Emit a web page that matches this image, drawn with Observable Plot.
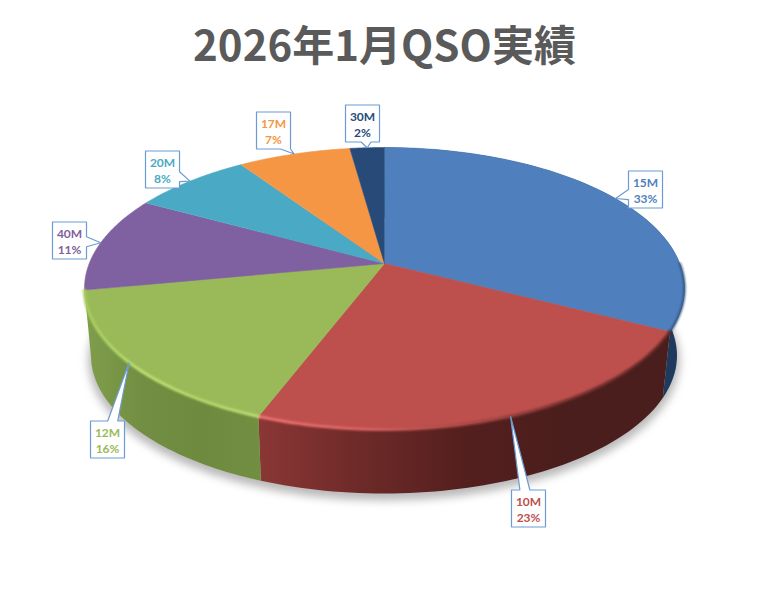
<!DOCTYPE html>
<html lang="ja">
<head>
<meta charset="utf-8">
<script src="https://cdn.jsdelivr.net/npm/d3@7"></script>
<script src="https://cdn.jsdelivr.net/npm/@observablehq/plot@0.6"></script>
<style>
  html, body { margin: 0; padding: 0; background: #fff; }
  #title {
    height: 78px; width: 769px; box-sizing: border-box; padding-top: 13px;
    text-align: center; font: 700 42px/60px "Noto Sans CJK JP", sans-serif; color: #5a5a5a;
  }
  svg { display: block; }
</style>
</head>
<body>
<div id="title">2026年1月QSO実績</div>
<div id="chart"></div>
<script>
// ---- values ----
const bands    = ["15M", "10M", "12M", "40M", "20M", "17M", "30M"];
const percents = [32.6, 23.2, 16.2, 11, 7.6, 7.2, 2.2];
const colors   = ["#4f7fbc", "#bd4f4c", "#9aba59", "#7f60a0", "#4aa9c4", "#f49644", "#274a78"];

// ---- drawing layout (page pixels) ----
const topRim = {cx: 384, cy: 288, rx: 300, ry: 141};
const botRim = {cx: 383.5, cy: 355, rx: 293, ry: 138};
const tilt = -0.177;                 // perspective shift of the pie's centre
const boxCenters = [[645, 189], [528, 508], [107, 439], [69, 240], [162, 169], [273, 130], [362, 123]];
const boxW = 34, boxH = 37, wedge = 5;

// A point on the pie (fraction of the turn, radius) through the perspective onto a rim
function project(turn, radius, rim) {
  const th = 2 * Math.PI * turn;
  const u = radius * Math.sin(th), v = -radius * Math.cos(th);
  const d = 1 + tilt * v;
  return {
    x: rim.cx + rim.rx * (u * Math.sqrt(1 - tilt * tilt) / d),
    y: rim.cy + rim.ry * ((v + tilt) / d)
  };
}
const total = d3.sum(percents);
const starts = d3.cumsum([0, ...percents]).map((c) => c / total);
const slices = bands.map((band, i) => ({band, i, a: starts[i], b: starts[i + 1]}));
const turns = (a, b) => d3.range(0, 61).map((k) => a + (b - a) * k / 60);

const faceData = slices.flatMap((s) => [
  {band: s.band, ...project(0, 0, topRim)},
  ...turns(s.a, s.b).map((t) => ({band: s.band, ...project(t, 1, topRim)}))
]);
const wallData = (s) => [
  ...turns(s.a, s.b).map((t) => project(t, 1, topRim)),
  ...turns(s.b, s.a).map((t) => project(t, 1, botRim))
];
const rimData = (s) => turns(Math.max(s.a, 0.25), s.b).map((t) => project(t, 1, topRim));
const shadowRim = {cx: botRim.cx, cy: botRim.cy + 5, rx: botRim.rx + 3, ry: botRim.ry + 2};
const shadowData = turns(0, 1).map((t) => project(t, 1, shadowRim));

// Callout outline: a box with a wedge reaching the rim at the middle of the slice
function callout(s) {
  const tip = project((s.a + s.b) / 2, 1, topRim);
  const [cx, cy] = boxCenters[s.i];
  const c = {x: cx, y: cy};
  const l = c.x - boxW / 2, r = c.x + boxW / 2, t = c.y - boxH / 2, b = c.y + boxH / 2;
  const nx = (tip.x - c.x) / (boxW / 2), ny = (tip.y - c.y) / (boxH / 2);
  const clamp = (v, lo, hi) => Math.max(lo + wedge, Math.min(hi - wedge, v));
  const alongX = clamp(c.x + (tip.x - c.x) / Math.abs(ny), l, r);
  const alongY = clamp(c.y + (tip.y - c.y) / Math.abs(nx), t, b);
  const horizontal = Math.abs(nx) > Math.abs(ny);
  const pts = [{x: l, y: t}];
  if (!horizontal && ny < 0) pts.push({x: alongX - wedge, y: t}, tip, {x: alongX + wedge, y: t});
  pts.push({x: r, y: t});
  if (horizontal && nx > 0) pts.push({x: r, y: alongY - wedge}, tip, {x: r, y: alongY + wedge});
  pts.push({x: r, y: b});
  if (!horizontal && ny > 0) pts.push({x: alongX + wedge, y: b}, tip, {x: alongX - wedge, y: b});
  pts.push({x: l, y: b});
  if (horizontal && nx < 0) pts.push({x: l, y: alongY + wedge}, tip, {x: l, y: alongY - wedge});
  pts.push({x: l, y: t});
  return {band: s.band, center: c, text: `${s.band}\n${Math.round(percents[s.i])}%`, pts};
}
const callouts = slices.map(callout);

// Gradients used by the side wall and the bevel
const gradients = {
  wallGreen: ["#7f9e4b", "#728e42", "#6e8a3f", "#718e41"],
  wallRed: ["#8a3735", "#6d2a28", "#541f1e", "#4a1e1c", "#4a1e1c"],
  rimGreen: ["#a6cc5f", "#bde070", "#b5d86a", "#bcdc74"],
  rimRed: ["#ef7571", "#d96361", "#a54744", "#6c2d2b", "#5a2422"]
};
const defs = () => {
  const d = d3.create("svg:defs");
  for (const [id, stops] of Object.entries(gradients)) {
    const g = d.append("linearGradient").attr("id", id);
    stops.forEach((c, i) => g.append("stop").attr("offset", i / (stops.length - 1)).attr("stop-color", c));
  }
  return d.node();
};

const wallFill = {"15M": "#1f3a5c", "10M": "url(#wallRed)", "12M": "url(#wallGreen)"};
const rimStroke = {"15M": "#2b4d78", "10M": "url(#rimRed)", "12M": "url(#rimGreen)"};

const chart = Plot.plot({
  width: 759, height: 515,
  marginTop: 0, marginRight: 0, marginBottom: 0, marginLeft: 0,
  style: {background: "#fff"},
  x: {domain: [0, 759], range: [0, 759], axis: null},
  y: {domain: [78, 593], range: [0, 515], axis: null},
  color: {domain: bands, range: colors},
  marks: [
    defs,
    Plot.line(shadowData, {x: "x", y: "y", fill: "#8a8a8a", stroke: "none", fillOpacity: 0.6, imageFilter: "blur(4px)"}),
    ...slices.filter((s) => wallFill[s.band]).map((s) =>
      Plot.line(wallData(s), {x: "x", y: "y", fill: wallFill[s.band], stroke: "none"})
    ),
    Plot.line(faceData, {x: "x", y: "y", z: "band", fill: "band", stroke: "band", strokeWidth: 0.6}),
    // bevel along the front of the top face
    ...slices.filter((s) => rimStroke[s.band]).map((s) =>
      Plot.line(rimData(s), {
        x: "x", y: "y", stroke: rimStroke[s.band], fill: "none",
        strokeWidth: s.band === "15M" ? 2 : 3, imageFilter: "blur(1px)"
      })
    ),
    Plot.line(callouts.flatMap((c) => c.pts.map((p) => ({band: c.band, ...p}))), {
      x: "x", y: "y", z: "band", fill: "#fff", stroke: "#6b9bd2", strokeWidth: 1.2, strokeLinejoin: "miter"
    }),
    Plot.text(callouts, {
      x: (d) => d.center.x, y: (d) => d.center.y, text: "text", fill: "band",
      fontFamily: "Lato, sans-serif", fontWeight: 700, fontSize: 12, lineHeight: 1.33
    })
  ]
});
document.getElementById("chart").append(chart);
</script>
</body>
</html>
